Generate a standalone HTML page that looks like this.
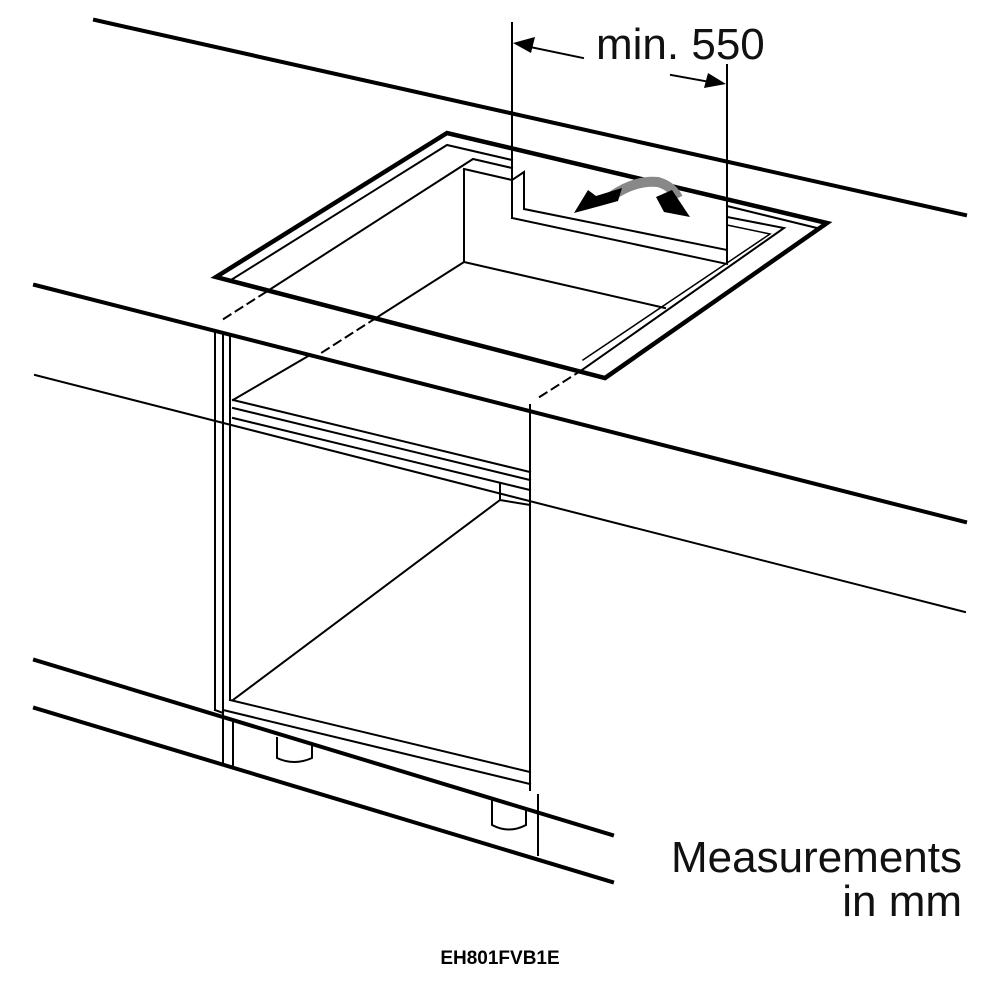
<!DOCTYPE html>
<html><head><meta charset="utf-8"><style>
html,body{margin:0;padding:0;background:#fff;width:1000px;height:1000px;overflow:hidden}
</style></head><body>
<svg width="1000" height="1000" viewBox="0 0 1000 1000" xmlns="http://www.w3.org/2000/svg">
<g stroke="#000" fill="none" stroke-linecap="square">
<line x1="95" y1="20" x2="965" y2="215" stroke-width="4"/>
<line x1="35" y1="285" x2="965" y2="522" stroke-width="4"/>
<line x1="35" y1="375" x2="965" y2="612" stroke-width="2"/>
<line x1="35" y1="660" x2="612" y2="835" stroke-width="4"/>
<line x1="35" y1="708" x2="612" y2="882" stroke-width="4"/>
<polygon points="216,277 447,133 827,223 605,378" stroke-width="4.5" stroke-linejoin="miter"/>
<polyline points="231,280 447,145 512,160" stroke-width="2"/>
<polyline points="727,206 817,228" stroke-width="2"/>
<polyline points="266,292 473,159 512,168" stroke-width="2"/>
<polyline points="727,217 784,228 582,370" stroke-width="2"/>
<polyline points="727,225 770,234 583,360" stroke-width="1.5"/>
<line x1="464" y1="169" x2="464" y2="262" stroke-width="2"/>
<line x1="464" y1="262" x2="665" y2="308" stroke-width="2"/>
<line x1="464" y1="262" x2="376" y2="318" stroke-width="2"/>
<line x1="464" y1="169" x2="512" y2="180" stroke-width="2"/>
<polyline points="512,218 512,180 524,172 524,209 727,250" stroke-width="2"/>
<line x1="512" y1="218" x2="727" y2="264" stroke-width="2"/>
<line x1="512" y1="23" x2="512" y2="218" stroke-width="2"/>
<line x1="727" y1="65" x2="727" y2="262" stroke-width="2"/>
<line x1="530" y1="47" x2="583" y2="58" stroke-width="2"/>
<line x1="671" y1="75" x2="710" y2="82" stroke-width="2"/>
<g stroke-dasharray="8,6" stroke-width="2">
<line x1="266" y1="292" x2="222" y2="320"/>
<line x1="376" y1="318" x2="318" y2="355"/>
<line x1="582" y1="370" x2="538" y2="398"/>
</g>
<line x1="215" y1="330" x2="215" y2="710" stroke-width="2"/>
<line x1="223" y1="332" x2="223" y2="765" stroke-width="2"/>
<line x1="230" y1="334" x2="230" y2="700" stroke-width="2"/>
<line x1="233" y1="765" x2="233" y2="722" stroke-width="2"/>
<line x1="530" y1="405" x2="530" y2="790" stroke-width="2"/>
<line x1="538" y1="795" x2="538" y2="855" stroke-width="2"/>
<line x1="233" y1="400" x2="310" y2="355" stroke-width="2"/>
<line x1="233" y1="400" x2="530" y2="472" stroke-width="2"/>
<line x1="233" y1="408" x2="530" y2="480" stroke-width="2"/>
<line x1="233" y1="418" x2="530" y2="490" stroke-width="2"/>
<polyline points="500,483 500,500 530,505" stroke-width="2"/>
<line x1="500" y1="500" x2="233" y2="700" stroke-width="2"/>
<line x1="230" y1="700" x2="530" y2="772" stroke-width="2"/>
<line x1="223" y1="710" x2="530" y2="784" stroke-width="2"/>
<line x1="223" y1="713" x2="215" y2="710" stroke-width="2"/>
<path d="M277,738 L277,758 Q294,766 312,758 L312,745" stroke-width="2"/>
<path d="M492,800 L492,825 Q509,834 526,825 L526,810" stroke-width="2"/>
</g>
<polygon points="513,43 535,37 531,53" fill="#000"/>
<polygon points="726,84 704,88 708,73" fill="#000"/>
<path d="M612,196 Q635,180 658,182 Q672,186 678,198" stroke="#888" stroke-width="10" fill="none"/>
<polygon points="574,213 588,190 596,196 622,188 618,201 600,206" fill="#000"/>
<polygon points="690,217 664,212 656,197 672,190" fill="#000"/>
<g font-family="Liberation Sans, sans-serif" fill="#111">
<text x="596" y="59" font-size="44">min. 550</text>
<text x="962" y="872" font-size="44" text-anchor="end">Measurements</text>
<text x="962" y="916" font-size="44" text-anchor="end">in mm</text>
<text x="500" y="964" font-size="19" font-weight="bold" text-anchor="middle" fill="#000">EH801FVB1E</text>
</g>
</svg>
</body></html>
